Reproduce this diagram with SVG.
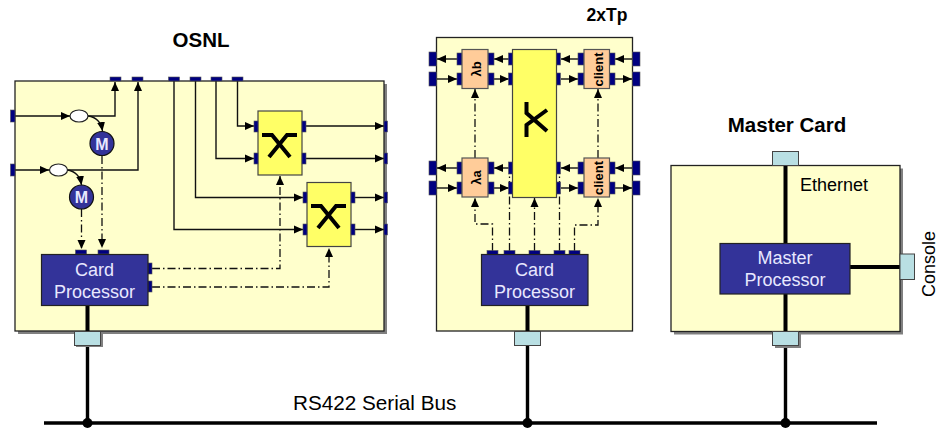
<svg xmlns="http://www.w3.org/2000/svg" width="939" height="430" viewBox="0 0 939 430">
<style>
text{font-family:"Liberation Sans",Arial,sans-serif;fill:#000}
.card{fill:#ffc;stroke:#222;stroke-width:1.3}
.shadow{fill:#808080}
.port{fill:#000080;stroke:#555;stroke-width:.6}
.sw{fill:#ff6;stroke:#444;stroke-width:1.2}
.peach{fill:#fc9;stroke:#555;stroke-width:1.2}
.proc{fill:#339;stroke:#222;stroke-width:1.2}
.teal{fill:#b9dfe3;stroke:#444;stroke-width:1}
.x{fill:none;stroke:#000;stroke-width:4}
.line{fill:none;stroke:#111;stroke-width:1.4}
.ctl{fill:none;stroke:#111;stroke-width:1.3;stroke-dasharray:8 3 1.5 3}
.thick{fill:none;stroke:#000;stroke-width:4}
.bus{fill:none;stroke:#000;stroke-width:3.4}
.pt{fill:#e8e8ff;font-size:18px;text-anchor:middle}
.title{font-weight:bold;text-anchor:middle}
.rot{font-weight:bold;font-size:13px;text-anchor:middle}
.m{fill:#339;stroke:#111;stroke-width:1.2}
.mt{fill:#e8e8ff;font-weight:bold;font-size:16px;text-anchor:middle}
.ell{fill:#fff;stroke:#222;stroke-width:1.2}
</style>
<defs>
<marker id="a" markerUnits="userSpaceOnUse" markerWidth="10" markerHeight="9" refX="9" refY="4.500" orient="auto" viewBox="0 0 10 9"><path d="M0,0.500L9,4.500L0,8.500z" fill="#000"/></marker>
</defs>

<g id="osnl-card">
<rect class="shadow" x="18" y="84" width="369" height="250"/>
<rect class="card" x="15" y="81" width="369" height="250"/>
<text class="title" x="201" y="47" font-size="20.5">OSNL</text>
</g>
<g id="tp-card">
<rect class="card" x="436.500" y="37.500" width="196" height="293.500"/>
<text class="title" x="607" y="21" font-size="17.500">2xTp</text>
</g>
<g id="master-card">
<rect class="shadow" x="674" y="168.500" width="229" height="166"/>
<rect class="card" x="671" y="165.500" width="229" height="166"/>
<text class="title" x="787" y="132" font-size="20.500">Master Card</text>
<text x="800" y="191" font-size="18">Ethernet</text>
</g>

<g id="connectors">
<path class="bus" d="M44,423H877"/>
<path class="bus" d="M87.500,345V423M527.500,345V423M785.500,345V423"/>
<path class="thick" d="M87.500,305V331M527.500,305V331M785.500,165V243M785.500,294V331M850,267H900"/>
<path class="line" marker-end="url(#a)" d="M15,116H70"/>
<path class="line" marker-end="url(#a)" d="M88,116H115V82"/>
<path class="line" marker-end="url(#a)" d="M15,170H49"/>
<path class="line" marker-end="url(#a)" d="M67,170H138V82"/>
<path class="line" marker-end="url(#a)" d="M88,116C96,117 101,122 102.500,131"/>
<path class="line" marker-end="url(#a)" d="M67,170C75,171 80,176 81.500,185"/>
<path class="line" marker-end="url(#a)" d="M237.500,81V126H254"/>
<path class="line" marker-end="url(#a)" d="M216,81V158.500H254"/>
<path class="line" marker-end="url(#a)" d="M195.500,81V197.500H303"/>
<path class="line" marker-end="url(#a)" d="M174,81V229.500H303"/>
<path class="line" marker-end="url(#a)" d="M306,126H384"/>
<path class="line" marker-end="url(#a)" d="M306,158.500H384"/>
<path class="line" marker-end="url(#a)" d="M355,197.500H384"/>
<path class="line" marker-end="url(#a)" d="M355,229.500H384"/>
<path class="ctl" marker-end="url(#a)" d="M102,156V248"/>
<path class="ctl" marker-end="url(#a)" d="M81.500,209V249"/>
<path class="ctl" marker-end="url(#a)" d="M152,268.500H280V176"/>
<path class="ctl" marker-end="url(#a)" d="M152,287H329V248"/>

<path class="line" marker-end="url(#a)" d="M457,59H437"/>
<path class="line" marker-end="url(#a)" d="M509,59H494"/>
<path class="line" marker-end="url(#a)" d="M578,59H561"/>
<path class="line" marker-end="url(#a)" d="M633,59H615"/>
<path class="line" marker-end="url(#a)" d="M436,79H457"/>
<path class="line" marker-end="url(#a)" d="M494,79H509"/>
<path class="line" marker-end="url(#a)" d="M561,79H578"/>
<path class="line" marker-end="url(#a)" d="M615,79H632"/>
<path class="line" marker-end="url(#a)" d="M457,168H437"/>
<path class="line" marker-end="url(#a)" d="M509,168H494"/>
<path class="line" marker-end="url(#a)" d="M578,168H561"/>
<path class="line" marker-end="url(#a)" d="M633,168H615"/>
<path class="line" marker-end="url(#a)" d="M436,188H457"/>
<path class="line" marker-end="url(#a)" d="M494,188H509"/>
<path class="line" marker-end="url(#a)" d="M561,188H578"/>
<path class="line" marker-end="url(#a)" d="M615,188H632"/>
<path class="ctl" marker-end="url(#a)" d="M475,158V89"/>
<path class="ctl" marker-end="url(#a)" d="M598,158V89"/>
<path class="ctl" marker-end="url(#a)" d="M492.500,251V224H475V198"/>
<path class="ctl" d="M509.500,251V174"/>
<path class="ctl" marker-end="url(#a)" d="M534.500,251V198"/>
<path class="ctl" d="M559.500,251V174"/>
<path class="ctl" marker-end="url(#a)" d="M574.500,251V225H598V198"/>
</g>

<g id="osnl-ports">
<rect class="port" x="110" y="77" width="11" height="4"/>
<rect class="port" x="132" y="77" width="11" height="4"/>
<rect class="port" x="168.500" y="77" width="11" height="4"/>
<rect class="port" x="190" y="77" width="11" height="4"/>
<rect class="port" x="211" y="77" width="11" height="4"/>
<rect class="port" x="232" y="77" width="11" height="4"/>
<rect class="port" x="10.500" y="110" width="4.500" height="12"/>
<rect class="port" x="10.500" y="164" width="4.500" height="12"/>
<rect class="port" x="384" y="121" width="3.500" height="11"/>
<rect class="port" x="384" y="153" width="3.500" height="11"/>
<rect class="port" x="384" y="192" width="3.500" height="11"/>
<rect class="port" x="384" y="224" width="3.500" height="11"/>
</g>
<g id="osnl-add-drop-1"><ellipse class="ell" cx="79" cy="116" rx="9" ry="6"/></g>
<g id="osnl-add-drop-2"><ellipse class="ell" cx="58.500" cy="170" rx="9" ry="6"/></g>
<g id="osnl-monitor-1"><circle class="m" cx="102" cy="143.500" r="12"/><text class="mt" x="102" y="149.500">M</text></g>
<g id="osnl-monitor-2"><circle class="m" cx="81.500" cy="197" r="12"/><text class="mt" x="81.500" y="203">M</text></g>
<g id="osnl-switch-1">
<rect class="sw" x="258" y="111" width="44" height="64"/>
<rect class="port" x="254" y="121" width="4" height="11"/><rect class="port" x="254" y="153" width="4" height="11"/>
<rect class="port" x="302" y="121" width="4" height="11"/><rect class="port" x="302" y="153" width="4" height="11"/>
<path class="x" d="M262,135H272L290,157M297,135H287L269,157"/>
</g>
<g id="osnl-switch-2">
<rect class="sw" x="307" y="182.500" width="44" height="64"/>
<rect class="port" x="303" y="192" width="4" height="11"/><rect class="port" x="303" y="224" width="4" height="11"/>
<rect class="port" x="351" y="192" width="4" height="11"/><rect class="port" x="351" y="224" width="4" height="11"/>
<path class="x" d="M311,206H321L339,228M346,206H336L318,228"/>
</g>
<g id="osnl-processor">
<rect class="port" x="75.500" y="250" width="11" height="4"/><rect class="port" x="98" y="250" width="11" height="4"/>
<rect class="port" x="148" y="263" width="4" height="11"/><rect class="port" x="148" y="281" width="4" height="11"/>
<rect class="proc" x="41.500" y="254.500" width="106.500" height="51"/>
<text class="pt" x="94.500" y="276">Card</text><text class="pt" x="94.500" y="298">Processor</text>
</g>
<g id="osnl-bus-port"><rect class="shadow" x="76" y="333" width="27" height="14"/><rect class="teal" x="74.500" y="331.500" width="26" height="14"/></g>

<g id="tp-ports">
<rect class="port" x="429" y="52" width="7.500" height="14"/><rect class="port" x="429" y="72" width="7.500" height="14"/>
<rect class="port" x="429" y="161" width="7.500" height="14"/><rect class="port" x="429" y="181" width="7.500" height="14"/>
<rect class="port" x="632.500" y="52" width="7.500" height="14"/><rect class="port" x="632.500" y="72" width="7.500" height="14"/>
<rect class="port" x="632.500" y="161" width="7.500" height="14"/><rect class="port" x="632.500" y="181" width="7.500" height="14"/>
</g>
<g id="tp-switch">
<rect class="port" x="508.500" y="53" width="4" height="12"/><rect class="port" x="508.500" y="73" width="4" height="12"/>
<rect class="port" x="508.500" y="162" width="4" height="12"/><rect class="port" x="508.500" y="182" width="4" height="12"/>
<rect class="port" x="556.500" y="53" width="4" height="12"/><rect class="port" x="556.500" y="73" width="4" height="12"/>
<rect class="port" x="556.500" y="162" width="4" height="12"/><rect class="port" x="556.500" y="182" width="4" height="12"/>
<rect class="sw" x="512.500" y="49.500" width="44" height="148"/>
<path class="x" d="M526.500,102V113L547,131M526.500,137V125L547,110"/>
</g>
<g id="tp-lambda-b">
<rect class="port" x="457" y="53" width="5" height="12"/><rect class="port" x="457" y="73" width="5" height="12"/>
<rect class="port" x="488" y="53" width="6" height="12"/><rect class="port" x="488" y="73" width="6" height="12"/>
<rect class="peach" x="462" y="49.500" width="26" height="39"/>
<text class="rot" transform="translate(481,69) rotate(-90)">λb</text>
</g>
<g id="tp-lambda-a">
<rect class="port" x="457" y="162" width="5" height="12"/><rect class="port" x="457" y="182" width="5" height="12"/>
<rect class="port" x="488" y="162" width="6" height="12"/><rect class="port" x="488" y="182" width="6" height="12"/>
<rect class="peach" x="462" y="158" width="26" height="39"/>
<text class="rot" transform="translate(481,177.500) rotate(-90)">λa</text>
</g>
<g id="tp-client-b">
<rect class="port" x="578" y="53" width="6" height="12"/><rect class="port" x="578" y="73" width="6" height="12"/>
<rect class="port" x="609" y="53" width="6" height="12"/><rect class="port" x="609" y="73" width="6" height="12"/>
<rect class="peach" x="584" y="49.500" width="25.500" height="39"/>
<text class="rot" transform="translate(603,69.500) rotate(-90)">client</text>
</g>
<g id="tp-client-a">
<rect class="port" x="578" y="162" width="6" height="12"/><rect class="port" x="578" y="182" width="6" height="12"/>
<rect class="port" x="609" y="162" width="6" height="12"/><rect class="port" x="609" y="182" width="6" height="12"/>
<rect class="peach" x="584" y="158" width="25.500" height="39"/>
<text class="rot" transform="translate(603,178) rotate(-90)">client</text>
</g>
<g id="tp-processor">
<rect class="port" x="487" y="250.500" width="11" height="4"/><rect class="port" x="504" y="250.500" width="11" height="4"/>
<rect class="port" x="529" y="250.500" width="11" height="4"/><rect class="port" x="554" y="250.500" width="11" height="4"/>
<rect class="port" x="569" y="250.500" width="11" height="4"/>
<rect class="proc" x="481.500" y="254.500" width="106.500" height="51"/>
<text class="pt" x="534.500" y="276">Card</text><text class="pt" x="534.500" y="298">Processor</text>
</g>
<g id="tp-bus-port"><rect class="teal" x="514.500" y="331.500" width="26" height="14"/></g>

<g id="master-processor">
<rect class="proc" x="720" y="243.500" width="130" height="50.500"/>
<text class="pt" x="785" y="264">Master</text><text class="pt" x="785" y="286">Processor</text>
</g>
<g id="ethernet-port"><rect class="teal" x="772.500" y="151.500" width="26" height="14"/></g>
<g id="master-bus-port"><rect class="shadow" x="775" y="333" width="26" height="15"/><rect class="teal" x="772.500" y="331.500" width="26" height="14"/></g>
<g id="console-port"><rect class="teal" x="900" y="254" width="14.500" height="25.500"/>
<text transform="translate(935,264) rotate(-90)" font-size="18" text-anchor="middle">Console</text></g>
<g id="bus-label">
<text x="293" y="410" font-size="20.700">RS422 Serial Bus</text>
<circle cx="87.500" cy="423" r="5"/><circle cx="527.500" cy="423" r="5"/><circle cx="785.500" cy="423" r="5"/>
</g>
</svg>
